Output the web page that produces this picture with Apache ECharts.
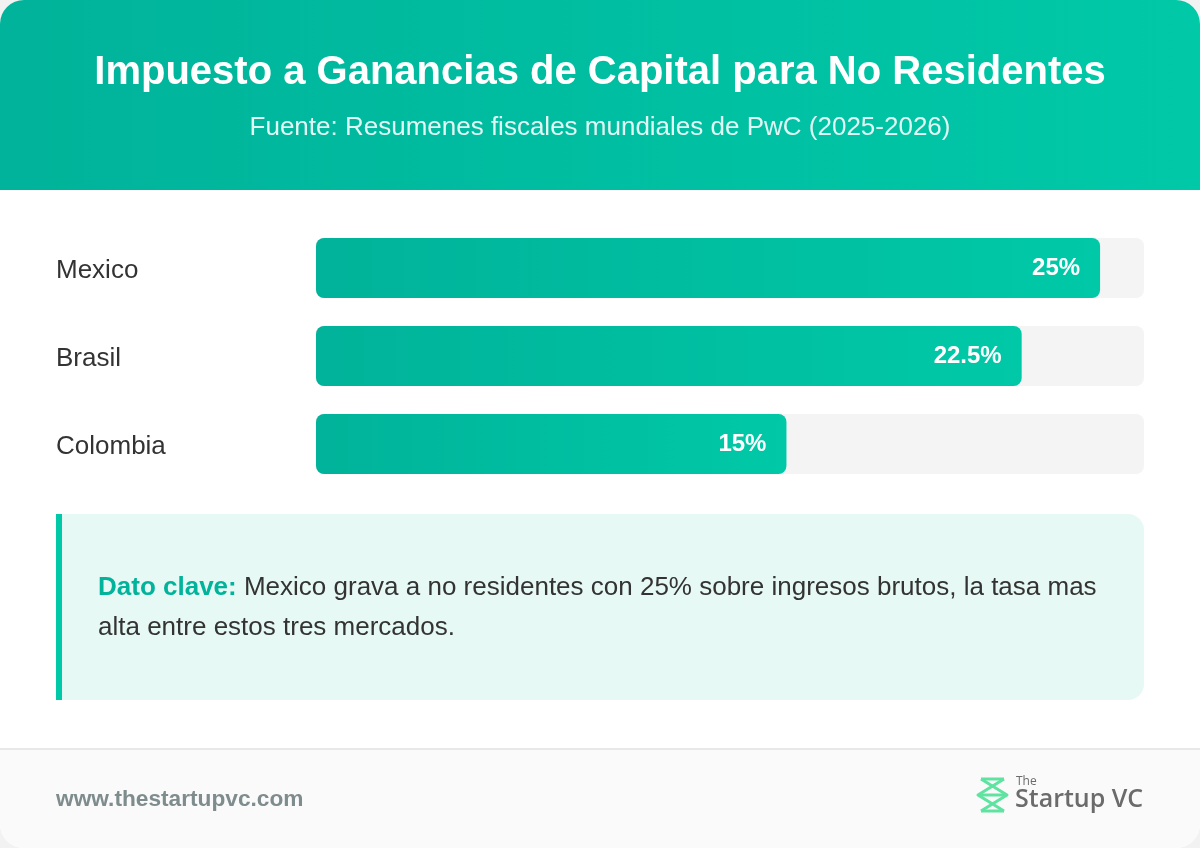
<!DOCTYPE html>
<html>
<head>
<meta charset="utf-8">
<script src="https://cdn.jsdelivr.net/npm/echarts@6/dist/echarts.min.js"></script>
<style>
  html, body { margin: 0; padding: 0; background: #f2f2f2; }
  #chart_container { width: 1200px; height: 848px; }
</style>
</head>
<body>
<div id="chart_container"></div>
<script>
var countries = ['Mexico', 'Brasil', 'Colombia'];
var taxRates = [25, 22.5, 15];
var axisMax = 26.4;

var titleText = 'Impuesto a Ganancias de Capital para No Residentes';
var subtitleText = 'Fuente: Resumenes fiscales mundiales de PwC (2025-2026)';
var keyLabel = 'Dato clave:';
var keyLine1 = ' Mexico grava a no residentes con 25% sobre ingresos brutos, la tasa mas';
var keyLine2 = 'alta entre estos tres mercados.';
var footerUrl = 'www.thestartupvc.com';

var dom = document.getElementById('chart_container');
var myChart = echarts.init(dom);
var font = '"Liberation Sans", Arial, sans-serif';

var barColor = new echarts.graphic.LinearGradient(0, 0, 1, 0, [
    { offset: 0, color: '#00b39a' },
    { offset: 1, color: '#00c9a7' }
]);

option = {
    animation: false,
    textStyle: { fontFamily: font },
    grid: {
        left: 316,
        width: 828,
        top: 224,
        height: 264
    },
    xAxis: {
        type: 'value',
        min: 0,
        max: axisMax,
        show: false,
        splitLine: { show: false }
    },
    yAxis: {
        type: 'category',
        data: countries,
        inverse: true,
        axisLine: { show: false },
        axisTick: { show: false },
        axisLabel: {
            align: 'left',
            margin: 260,
            formatter: function (v) { return '{c|' + v + '}'; },
            rich: {
                c: {
                    color: '#333333',
                    fontSize: 26,
                    fontFamily: font,
                    padding: [6, 0, 0, 0]
                }
            }
        }
    },
    series: [{
        name: 'Tasa',
        type: 'bar',
        data: taxRates,
        barWidth: 60,
        showBackground: true,
        backgroundStyle: {
            color: '#f4f4f4',
            borderRadius: 8
        },
        itemStyle: {
            color: barColor,
            borderRadius: 8
        },
        label: {
            show: true,
            position: 'insideRight',
            distance: 20,
            formatter: function (p) { return p.value + '%'; },
            color: '#ffffff',
            fontSize: 24,
            fontWeight: 'bold',
            fontFamily: font
        },
        z: 3
    }],
    graphic: [
        // card
        { type: 'rect', z: -10, shape: { x: 0, y: 0, width: 1200, height: 848, r: 24 }, style: { fill: '#ffffff' } },
        // header
        {
            type: 'rect', z: -9,
            shape: { x: 0, y: 0, width: 1200, height: 190, r: [24, 24, 0, 0] },
            style: {
                fill: new echarts.graphic.LinearGradient(0, 0, 1, 0, [
                    { offset: 0, color: '#00b39a' },
                    { offset: 1, color: '#00c9a8' }
                ])
            }
        },
        { type: 'text', z: 5, x: 600, y: 73, style: { text: titleText, fill: '#ffffff', font: 'bold 40px ' + font, align: 'center', verticalAlign: 'middle' } },
        { type: 'text', z: 5, x: 600, y: 128, style: { text: subtitleText, fill: 'rgba(255,255,255,0.88)', font: '26px ' + font, align: 'center', verticalAlign: 'middle' } },
        // key box
        { type: 'rect', z: -8, shape: { x: 56, y: 514, width: 1088, height: 186, r: [0, 16, 16, 0] }, style: { fill: '#e6f9f4' } },
        { type: 'rect', z: -7, shape: { x: 56, y: 514, width: 6, height: 186 }, style: { fill: '#00c9a7' } },
        {
            type: 'text', z: 5, x: 98, y: 588,
            style: {
                text: '{k|' + keyLabel + '}{t|' + keyLine1 + '}',
                rich: {
                    k: { fill: '#00b39a', font: 'bold 26px ' + font },
                    t: { fill: '#333333', font: '26px ' + font }
                },
                verticalAlign: 'middle'
            }
        },
        { type: 'text', z: 5, x: 98, y: 628, style: { text: keyLine2, fill: '#333333', font: '26px ' + font, verticalAlign: 'middle' } },
        // footer
        { type: 'rect', z: -8, shape: { x: 0, y: 749, width: 1200, height: 99, r: [0, 0, 24, 24] }, style: { fill: '#fafafa' } },
        { type: 'rect', z: -7, shape: { x: 0, y: 748, width: 1200, height: 2 }, style: { fill: '#e8e8e8' } },
        { type: 'text', z: 5, x: 56, y: 800, style: { text: footerUrl, fill: '#7f8c8d', font: 'bold 22.7px ' + font, verticalAlign: 'middle' } },
        // logo icon
        {
            type: 'group', z: 5,
            children: [
                { type: 'polyline', shape: { points: [[981, 779], [1004, 779]] }, style: { stroke: '#5ee3a1', lineWidth: 3 } },
                { type: 'polyline', shape: { points: [[981, 779], [1007, 795], [981, 811]] }, style: { stroke: '#5ee3a1', lineWidth: 3, lineJoin: 'round' } },
                { type: 'polyline', shape: { points: [[1004, 779], [978, 795], [1004, 811]] }, style: { stroke: '#5ee3a1', lineWidth: 3, lineJoin: 'round' } },
                { type: 'polyline', shape: { points: [[980, 795], [1005, 795]] }, style: { stroke: '#5ee3a1', lineWidth: 3 } },
                { type: 'polyline', shape: { points: [[981, 811], [1004, 811]] }, style: { stroke: '#5ee3a1', lineWidth: 3 } }
            ]
        },
        { type: 'text', z: 5, x: 1016, y: 782, style: { text: 'The', fill: '#6b6b6b', font: '12px "Open Sans", sans-serif', verticalAlign: 'middle' } },
        { type: 'text', z: 5, x: 1015, y: 800, style: { text: 'Startup VC', fill: '#6b6b6b', font: '600 25px "Open Sans", sans-serif', verticalAlign: 'middle' } }
    ]
};

if (option && typeof option === "object") {
    myChart.setOption(option, true);
}
</script>
</body>
</html>
